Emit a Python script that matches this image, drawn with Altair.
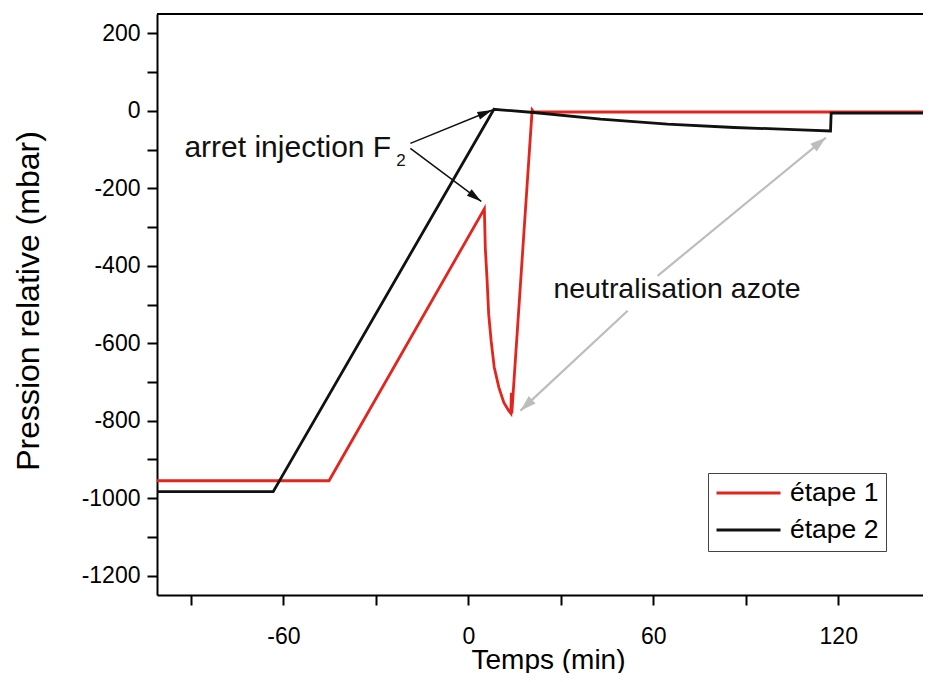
import math
import altair as alt
import pandas as pd

# ---------------- data ----------------
series_names = ["étape 1", "étape 2"]
series_colors = ["#e4251d", "#111111"]

time_etape1 = [-101, -45.2, 5.2, 5.5, 6.1, 6.6, 7.4, 8.4, 9.9, 11.5, 13.1, 13.8, 13.95, 14.1, 20.7, 21.2, 150]
pression_etape1 = [-955, -955, -253, -353, -439, -525, -594, -662, -714, -753, -774, -781, -728, -781, 2, -3, -3]

time_etape2 = [-101, -63.3, 8.3, 10.4, 21.2, 42.9, 64.6, 86.2, 107.9, 117.5, 117.7, 150]
pression_etape2 = [-983, -983, 4, 2.6, -4.3, -21.5, -34.4, -43, -49, -52, -6, -6]

x_ticks = [-90, -60, -30, 0, 30, 60, 90, 120]
y_ticks = list(range(-1200, 201, 100))

# annotation arrows: start (t, p) -> tip (t, p)
black_arrow_t0 = [-18.8, -18.8]
black_arrow_p0 = [-84, -97]
black_arrow_t1 = [7.8, 4.2]
black_arrow_p1 = [2, -234]

grey_arrow_t0 = [51.7, 61.4]
grey_arrow_p0 = [-516, -426]
grey_arrow_t1 = [16.9, 116.0]
grey_arrow_p1 = [-774, -69]

label1_text = ["arret injection F"]
label1_t = [-92.1]
label1_p = [-119]
label2_text = ["neutralisation azote"]
label2_t = [27.6]
label2_p = [-483]
sub_text = ["2"]
sub_t = [-23.4]
sub_p = [-143]

# ---------------- layout ----------------
W, H = 766, 581
XMIN, XMAX = -101, 147.5
YMIN, YMAX = -1250, 250
FONT = "Liberation Sans, Arial, Helvetica, sans-serif"

x_scale = alt.Scale(domain=[XMIN, XMAX], nice=False, zero=False)
y_scale = alt.Scale(domain=[YMIN, YMAX], nice=False, zero=False)

rows = []
for name, ts, ps in [(series_names[0], time_etape1, pression_etape1),
                     (series_names[1], time_etape2, pression_etape2)]:
    for i, (t, p) in enumerate(zip(ts, ps)):
        rows.append({"serie": name, "t": t, "p": p, "idx": i})
df_lines = pd.DataFrame(rows)


def px(t):
    return (t - XMIN) / (XMAX - XMIN) * W


def py(p):
    return (YMAX - p) / (YMAX - YMIN) * H


def arrow_df(t0, p0, t1, p1):
    recs = []
    for a, b, c, d in zip(t0, p0, t1, p1):
        dx = px(c) - px(a)
        dy = py(d) - py(b)
        ang = math.degrees(math.atan2(dx, -dy)) % 360
        recs.append({"t0": a, "p0": b, "t1": c, "p1": d, "angle": ang})
    return pd.DataFrame(recs)


df_black = arrow_df(black_arrow_t0, black_arrow_p0, black_arrow_t1, black_arrow_p1)
df_grey = arrow_df(grey_arrow_t0, grey_arrow_p0, grey_arrow_t1, grey_arrow_p1)

x_axis = alt.Axis(
    values=x_ticks,
    labelExpr="datum.value % 60 == 0 ? '' + datum.value : ''",
    title="Temps (min)",
    titleX=391, titleY=73, titleBaseline="alphabetic", titleAnchor="middle", titleFontSize=28,
    labelPadding=20, labelOverlap=False, labelFlush=False,
)
y_axis = alt.Axis(
    values=y_ticks,
    labelExpr="datum.value % 200 == 0 ? '' + datum.value : ''",
    title="Pression relative (mbar)",
    titleX=-129, titleY=H / 2 - 4, titleBaseline="middle", titleAlign="center", titleAngle=270,
    titleFontSize=32,
    labelPadding=7, labelOverlap=False, labelFlush=False,
)

lines = alt.Chart(df_lines).mark_line(strokeWidth=2.8, clip=True).encode(
    x=alt.X("t:Q", scale=x_scale, axis=x_axis),
    y=alt.Y("p:Q", scale=y_scale, axis=y_axis),
    color=alt.Color(
        "serie:N",
        scale=alt.Scale(domain=series_names, range=series_colors),
        legend=alt.Legend(
            title=None, orient="none", legendX=551, legendY=459,
            symbolType="stroke", symbolSize=4096, symbolStrokeWidth=3,
            labelFontSize=26.5, labelFont=FONT, labelColor="black", labelOffset=8,
            strokeColor="#444444", fillColor="white", padding=7, rowPadding=10,
            clipHeight=26,
        ),
    ),
    order="idx:Q",
)

# top frame line (the right edge of the frame is cut off in the reference)
top_frame = alt.Chart(pd.DataFrame({"k": [0]})).mark_rule(color="black", strokeWidth=2).encode(
    x=alt.value(0), x2=alt.value(W), y=alt.value(0)
)


def arrows(df, color, width, head_len, head_half):
    shaft = alt.Chart(df).mark_rule(color=color, strokeWidth=width).encode(
        x=alt.X("t0:Q", scale=x_scale), y=alt.Y("p0:Q", scale=y_scale),
        x2="t1:Q", y2="p1:Q",
    )
    u = head_half / (head_len / 2)
    path = f"M0,0L{u:.3f},2L{-u:.3f},2Z"
    size = head_len ** 2
    head = alt.Chart(df).mark_point(
        shape=path, filled=True, color=color, opacity=1, size=size, strokeWidth=0
    ).encode(
        x=alt.X("t1:Q", scale=x_scale), y=alt.Y("p1:Q", scale=y_scale),
        angle=alt.Angle("angle:Q", scale=None),
    )
    return shaft + head


black_arrows = arrows(df_black, "#111111", 1.5, 15, 4)
grey_arrows = arrows(df_grey, "#bdbdbd", 2.2, 16, 5)

label1 = alt.Chart(pd.DataFrame({"txt": label1_text, "t": label1_t, "p": label1_p})).mark_text(
    align="left", baseline="alphabetic", font=FONT, fontSize=30, color="#111111"
).encode(x=alt.X("t:Q", scale=x_scale), y=alt.Y("p:Q", scale=y_scale), text="txt:N")

label2 = alt.Chart(pd.DataFrame({"txt": label2_text, "t": label2_t, "p": label2_p})).mark_text(
    align="left", baseline="alphabetic", font=FONT, fontSize=28.5, color="#111111"
).encode(x=alt.X("t:Q", scale=x_scale), y=alt.Y("p:Q", scale=y_scale), text="txt:N")

sub = alt.Chart(pd.DataFrame({"txt": sub_text, "t": sub_t, "p": sub_p})).mark_text(
    align="left", baseline="alphabetic", font=FONT, fontSize=17, color="#111111"
).encode(x=alt.X("t:Q", scale=x_scale), y=alt.Y("p:Q", scale=y_scale), text="txt:N")

chart = alt.layer(grey_arrows, lines, black_arrows, label1, label2, sub, top_frame).properties(
    width=W, height=H,
    autosize=alt.AutoSizeParams(type="none"),
    padding={"left": 149, "top": 6, "right": 0, "bottom": 78},
).configure_view(
    stroke=None
).configure_axis(
    grid=False, domainColor="black", domainWidth=2, tickColor="black", tickWidth=2,
    tickSize=10, labelFont=FONT, labelFontSize=23, labelColor="black",
    titleFont=FONT, titleFontSize=28, titleFontWeight="normal", titleColor="black",
)

chart.save("out.html", embed_options={"renderer": "svg", "actions": False})
